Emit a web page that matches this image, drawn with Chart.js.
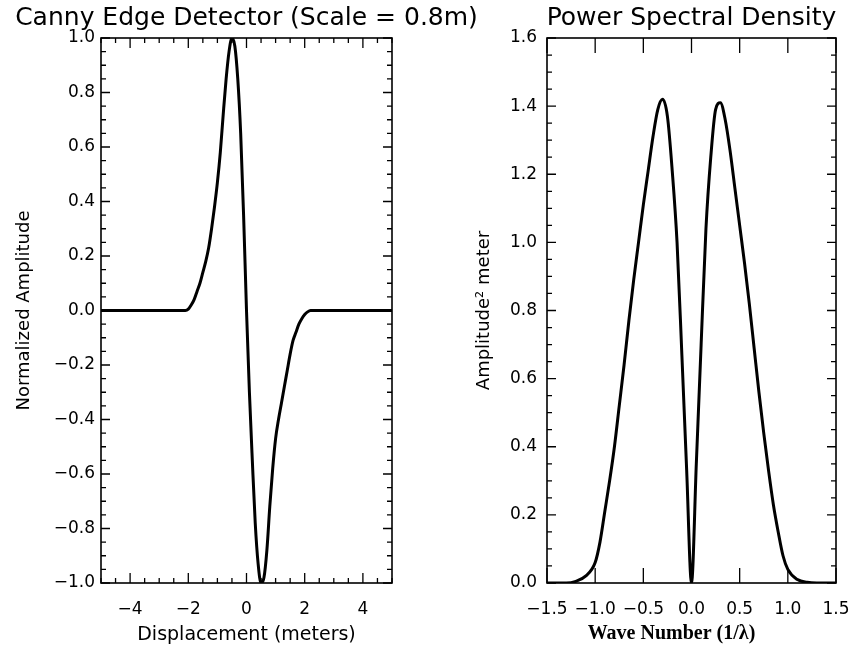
<!DOCTYPE html>
<html>
<head>
<meta charset="utf-8">
<script src="https://cdn.jsdelivr.net/npm/chart.js"></script>
<style>
  body { margin: 0; background: #fff; overflow: hidden; }
  #left { position: absolute; left: 0; top: 0; }
  #right { position: absolute; left: 425px; top: 0; }
</style>
</head>
<body>
<canvas id="left" width="500" height="651"></canvas>
<canvas id="right" width="460" height="651"></canvas>
<script>
// Canny edge detector kernel
const cannyX = [-5.0, -2.5, -2.1, -2.0, -1.9, -1.8, -1.7, -1.6, -1.5, -1.4, -1.3, -1.2, -1.1, -1.0,
  -0.9, -0.8, -0.7, -0.6, -0.5, -0.4, -0.3, -0.2, -0.1, 0.0, 0.1, 0.2, 0.3, 0.4, 0.5, 0.6,
  0.7, 0.8, 0.9, 1.0, 1.1, 1.2, 1.3, 1.4, 1.5, 1.6, 1.7, 1.8, 1.9, 2.0, 2.1, 2.2, 5.0];
const cannyY = [0, 0, 0, 0.005, 0.02, 0.04, 0.07, 0.10, 0.14, 0.18, 0.23, 0.30, 0.38, 0.47,
  0.58, 0.72, 0.85, 0.95, 1.0, 0.97, 0.85, 0.65, 0.35, 0.0, -0.30, -0.55, -0.78, -0.93, -1.0, -0.98,
  -0.88, -0.72, -0.58, -0.47, -0.40, -0.34, -0.28, -0.22, -0.16, -0.11, -0.08, -0.05, -0.03, -0.015, -0.005, 0, 0];

// power spectral density
const psdX = [-1.5, -1.3, -1.2, -1.1, -1.0, -0.95, -0.9, -0.85, -0.8, -0.75, -0.7, -0.65, -0.6, -0.55,
  -0.5, -0.45, -0.4, -0.35, -0.3, -0.25, -0.2, -0.15, -0.1, -0.05, 0, 0.05, 0.1, 0.15, 0.2, 0.25,
  0.3, 0.35, 0.4, 0.45, 0.5, 0.55, 0.6, 0.65, 0.7, 0.75, 0.8, 0.85, 0.9, 0.95, 1.0, 1.1, 1.2, 1.3, 1.5];
const psdY = [0, 0, 0.005, 0.02, 0.06, 0.12, 0.21, 0.30, 0.40, 0.52, 0.64, 0.77, 0.89, 1.00,
  1.11, 1.21, 1.31, 1.39, 1.42, 1.37, 1.21, 1.00, 0.67, 0.33, 0, 0.35, 0.70, 1.04, 1.25, 1.39,
  1.41, 1.36, 1.27, 1.16, 1.05, 0.94, 0.82, 0.69, 0.56, 0.44, 0.33, 0.23, 0.15, 0.08, 0.04, 0.01, 0.002, 0, 0];

const cannyXTicks = [-4, -2, 0, 2, 4];
const cannyYTicks = [-1.0, -0.8, -0.6, -0.4, -0.2, 0.0, 0.2, 0.4, 0.6, 0.8, 1.0];
const psdXTicks = [-1.5, -1.0, -0.5, 0.0, 0.5, 1.0, 1.5];
const psdYTicks = [0.0, 0.2, 0.4, 0.6, 0.8, 1.0, 1.2, 1.4, 1.6];

Chart.defaults.font.family = 'DejaVu Sans';
Chart.defaults.color = '#000';

const fmt = d => v => Number(v).toFixed(d).replace('-', '\u2212');

// IDL style box with inward ticks on all four sides, title centred on the plot
const boxTicks = {
  id: 'boxTicks',
  afterDatasetsDraw(chart, args, o) {
    const {ctx, chartArea: a, scales: {x, y}} = chart;
    ctx.save();
    ctx.strokeStyle = '#000';
    ctx.lineWidth = 1.6;
    ctx.strokeRect(a.left, a.top, a.right - a.left, a.bottom - a.top);
    ctx.lineWidth = 1.3;
    ctx.beginPath();
    const xt = (v, len) => {
      const px = x.getPixelForValue(v);
      ctx.moveTo(px, a.bottom); ctx.lineTo(px, a.bottom - len);
      ctx.moveTo(px, a.top); ctx.lineTo(px, a.top + len);
    };
    const yt = (v, len) => {
      const py = y.getPixelForValue(v);
      ctx.moveTo(a.left, py); ctx.lineTo(a.left + len, py);
      ctx.moveTo(a.right, py); ctx.lineTo(a.right - len, py);
    };
    if (o.xMinor) for (let v = x.min; v <= x.max + 1e-9; v += o.xMinor) xt(v, o.minLen);
    if (o.yMinor) for (let v = y.min; v <= y.max + 1e-9; v += o.yMinor) yt(v, o.minLen);
    x.ticks.forEach(t => xt(t.value, o.xLen));
    y.ticks.forEach(t => yt(t.value, o.yLen));
    ctx.stroke();

    ctx.fillStyle = '#000';
    ctx.font = '25px "DejaVu Sans"';
    ctx.textAlign = 'center';
    ctx.textBaseline = 'alphabetic';
    ctx.fillText(o.title, (a.left + a.right) / 2, 25);
    ctx.restore();
  }
};

function makeChart(id, xs, ys, o) {
  return new Chart(document.getElementById(id), {
    type: 'line',
    data: {
      datasets: [{
        data: xs.map((v, i) => ({x: v, y: ys[i]})),
        borderColor: '#000',
        borderWidth: 3,
        pointRadius: 0,
        cubicInterpolationMode: 'monotone',
        fill: false
      }]
    },
    options: {
      responsive: false,
      animation: false,
      layout: {padding: {left: 0, right: o.padRight, top: 38, bottom: 0}},
      plugins: {
        legend: {display: false},
        tooltip: {enabled: false},
        title: {display: false},
        boxTicks: {title: o.title, xMinor: o.xMinor, yMinor: o.yMinor, xLen: o.xLen, yLen: 9, minLen: 5}
      },
      scales: {
        x: {
          type: 'linear', min: o.xMin, max: o.xMax,
          afterBuildTicks: s => { s.ticks = o.xTicks.map(v => ({value: v})); },
          afterFit: s => { s.height = 68; },
          grid: {display: false, drawTicks: false},
          border: {display: false},
          ticks: {autoSkip: false, maxRotation: 0, padding: 16, font: {size: 17}, callback: fmt(o.xDigits)},
          title: {display: true, text: o.xTitle, font: o.xTitleFont, padding: {top: 0, bottom: 5}}
        },
        y: {
          type: 'linear', min: o.yMin, max: o.yMax,
          afterBuildTicks: s => { s.ticks = o.yTicks.map(v => ({value: v})); },
          afterFit: s => { s.width = o.yWidth; },
          grid: {display: false, drawTicks: false},
          border: {display: false},
          ticks: {autoSkip: false, padding: o.yPad, font: {size: 17}, callback: fmt(1)},
          title: {display: true, text: o.yTitle, font: {size: 18}, padding: {top: o.yTitlePad, bottom: 0}}
        }
      }
    },
    plugins: [boxTicks]
  });
}

makeChart('left', cannyX, cannyY, {
  title: 'Canny Edge Detector (Scale = 0.8m)',
  xMin: -5, xMax: 5, yMin: -1, yMax: 1,
  xTicks: cannyXTicks, yTicks: cannyYTicks, xDigits: 0,
  xMinor: 0.5, yMinor: 0.05, xLen: 10,
  xTitle: 'Displacement (meters)', xTitleFont: {size: 19},
  yTitle: 'Normalized Amplitude', yWidth: 101, yPad: 6, yTitlePad: 14,
  padRight: 108
});

makeChart('right', psdX, psdY, {
  title: 'Power Spectral Density',
  xMin: -1.5, xMax: 1.5, yMin: 0, yMax: 1.6,
  xTicks: psdXTicks, yTicks: psdYTicks, xDigits: 1,
  xMinor: 0, yMinor: 0.05, xLen: 15,
  xTitle: 'Wave Number (1/\u03bb)\u2003\u2003',
  xTitleFont: {size: 20, weight: 'bold', family: 'Liberation Serif'},
  yTitle: 'Amplitude\u00b2 meter', yWidth: 122, yPad: 10, yTitlePad: 49,
  padRight: 49
});
</script>
</body>
</html>
